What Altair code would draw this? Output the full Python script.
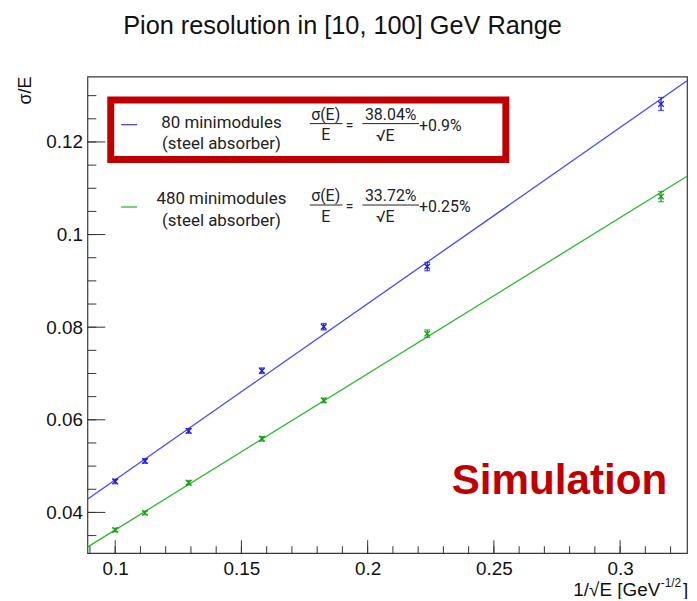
import altair as alt
import pandas as pd

# ---------------- data ----------------
x_vals = [0.1, 0.1118, 0.1291, 0.1581, 0.1826, 0.2236, 0.3162]
blue_y = [0.0467, 0.0511, 0.0576, 0.0706, 0.0801, 0.0931, 0.1282]
blue_err = [0.0005, 0.0005, 0.0005, 0.0006, 0.0007, 0.0009, 0.0014]
green_y = [0.0362, 0.0399, 0.0464, 0.0559, 0.0642, 0.0786, 0.1082]
green_err = [0.0004, 0.0004, 0.0005, 0.0005, 0.0005, 0.0008, 0.0011]
series = ["80 minimodules", "480 minimodules"]
fit_a = [0.3804, 0.3372]   # stochastic term from the legend
fit_b = [0.009, 0.0025]    # constant term from the legend

x_domain = [0.089, 0.3265]
y_domain = [0.0312, 0.1341]
x_major = [0.1, 0.15, 0.2, 0.25, 0.3]
x_ticks = [0.09, 0.10, 0.11, 0.12, 0.13, 0.14, 0.15, 0.16, 0.17, 0.18, 0.19, 0.20,
           0.21, 0.22, 0.23, 0.24, 0.25, 0.26, 0.27, 0.28, 0.29, 0.30, 0.31, 0.32]
y_major = [0.04, 0.06, 0.08, 0.1, 0.12]
y_ticks = [0.035, 0.04, 0.045, 0.05, 0.055, 0.06, 0.065, 0.07, 0.075, 0.08, 0.085,
           0.09, 0.095, 0.1, 0.105, 0.11, 0.115, 0.12, 0.125, 0.13]

W, H = 604, 480
LINE_COLORS = ["#4646ff", "#2cb82c"]
PT_COLORS = ["#1c1ce0", "#12a012"]
TICK_COLOR = "#333333"

# ---------------- tables ----------------
rows = []
for s, ys, es in [(series[0], blue_y, blue_err), (series[1], green_y, green_err)]:
    for xv, yv, ev in zip(x_vals, ys, es):
        rows.append({"series": s, "x": xv, "y": yv, "lo": yv - ev, "hi": yv + ev})
pts = pd.DataFrame(rows)
caps = pd.concat([
    pts.assign(yc=pts["lo"]),
    pts.assign(yc=pts["hi"]),
])

fit_rows = []
for s, a, b in zip(series, fit_a, fit_b):
    for xv in x_domain:
        fit_rows.append({"series": s, "x": xv, "y": a * xv + b})
fit = pd.DataFrame(fit_rows)

xs = alt.Scale(domain=x_domain, nice=False, zero=False)
ys_ = alt.Scale(domain=y_domain, nice=False, zero=False)
line_color = alt.Color("series:N", scale=alt.Scale(domain=series, range=LINE_COLORS), legend=None)
pt_color = alt.Color("series:N", scale=alt.Scale(domain=series, range=PT_COLORS), legend=None)

LABEL_FONT = "Liberation Sans"

# fit lines carry the label axes
lines = alt.Chart(fit).mark_line(strokeWidth=1.3, clip=True).encode(
    x=alt.X("x:Q", scale=xs, axis=alt.Axis(
        values=x_major, format="~g", ticks=False, tickSize=0, domain=False, grid=False,
        labelFont=LABEL_FONT, labelFontSize=19, labelColor="#111", labelPadding=6,
        title=None)),
    y=alt.Y("y:Q", scale=ys_, axis=alt.Axis(
        values=y_major, format="~g", ticks=False, tickSize=0, domain=False, grid=False,
        labelFont=LABEL_FONT, labelFontSize=19, labelColor="#111", labelPadding=5,
        title=None)),
    color=line_color,
    detail="series:N",
)

# inward ROOT-style ticks, drawn from the tick lists through the scales
xt_all = pd.DataFrame({"t": x_ticks})
xt_maj = pd.DataFrame({"t": x_major})
yt_all = pd.DataFrame({"t": y_ticks})
yt_maj = pd.DataFrame({"t": y_major})


def xtick(df, length):
    return alt.Chart(df).mark_rule(color=TICK_COLOR, strokeWidth=1).encode(
        x=alt.X("t:Q", scale=xs, axis=None),
        y=alt.value(H), y2=alt.value(H - length))


def ytick(df, length):
    return alt.Chart(df).mark_rule(color=TICK_COLOR, strokeWidth=1).encode(
        y=alt.Y("t:Q", scale=ys_, axis=None),
        x=alt.value(0), x2=alt.value(length))


ticks = [xtick(xt_all, 7), xtick(xt_maj, 13), ytick(yt_all, 9), ytick(yt_maj, 18)]

bars = alt.Chart(pts).mark_rule(strokeWidth=1.3).encode(
    x=alt.X("x:Q", scale=xs, axis=None),
    y=alt.Y("lo:Q", scale=ys_, axis=None),
    y2="hi:Q",
    color=pt_color,
)
capm = alt.Chart(caps).mark_point(shape="M-1,0L1,0", size=36, filled=False, strokeWidth=1.3).encode(
    x=alt.X("x:Q", scale=xs, axis=None),
    y=alt.Y("yc:Q", scale=ys_, axis=None),
    color=pt_color,
)
marks = alt.Chart(pts).mark_point(shape="M-1,-1L1,1M-1,1L1,-1", size=30, filled=False,
                                  strokeWidth=1.3, opacity=1).encode(
    x=alt.X("x:Q", scale=xs, axis=None),
    y=alt.Y("y:Q", scale=ys_, axis=None),
    color=pt_color,
)

dummy = pd.DataFrame({"d": [0]})


def txt(s, x, y, size=17, align="center", font="Roboto", color="#222", weight="normal",
        angle=0, baseline="middle"):
    return alt.Chart(dummy).mark_text(
        align=align, baseline=baseline, font=font, fontSize=size, color=color,
        fontWeight=weight, angle=angle).encode(
        text=alt.value(s), x=alt.value(x), y=alt.value(y))


def seg(x1, x2, y, color="#222", width=1.0):
    return alt.Chart(dummy).mark_rule(color=color, strokeWidth=width).encode(
        x=alt.value(x1), x2=alt.value(x2), y=alt.value(y))


box = alt.Chart(dummy).mark_rect(fillOpacity=0, stroke="#c00000", strokeWidth=7).encode(
    x=alt.value(23.5), x2=alt.value(421.5), y=alt.value(23.5), y2=alt.value(83.5))

legend_formulas = [("38.04%", "+0.9%"), ("33.72%", "+0.25%")]
ann = [box]
for i, (num, const) in enumerate(legend_formulas):
    dyt = 77 * i
    dyf = 82 * i
    ann += [
        seg(34, 50, 48.3 + 83 * i, LINE_COLORS[i], 1.3),
        txt(("80" if i == 0 else "480") + " minimodules", 135, 46.7 + dyt),
        txt("(steel absorber)", 135, 68.3 + dyt),
        txt("σ(E)", 240, 38.3 + dyf, size=16),
        seg(224, 257, 47.3 + dyf),
        txt("E", 240, 59 + dyf, size=16),
        txt("=", 264, 49.3 + dyf, size=14),
        txt(num, 305.5, 38.3 + dyf, size=16),
        seg(277, 334, 47.3 + dyf),
        txt("√E", 300, 59.5 + dyf, size=16),
        txt(const, 334, 49.3 + dyf, size=16, align="left"),
    ]

ann += [
    txt("Simulation", 475.5, 420, size=42.5, font="Liberation Sans", color="#c00000",
        weight="bold", baseline="alphabetic"),
    txt("Pion resolution in [10, 100] GeV Range", 257, -43, size=25.5, font=LABEL_FONT,
        color="#111", baseline="alphabetic"),
    txt("σ/E", -62, 0, size=18, font=LABEL_FONT, color="#111", angle=270, align="right"),
    txt("1/√E [GeV", 577, 523, size=19, font=LABEL_FONT, color="#111", align="right",
        baseline="alphabetic"),
    txt("-1/2", 577.5, 514, size=12, font=LABEL_FONT, color="#111", align="left",
        baseline="alphabetic"),
    txt("]", 600, 523, size=19, font=LABEL_FONT, color="#111", align="left",
        baseline="alphabetic"),
]

chart = alt.layer(lines, *ticks, bars, capm, marks, *ann).resolve_axis(
    x="independent", y="independent"
).resolve_scale(color="independent").properties(
    width=W, height=H,
    autosize=alt.AutoSizeParams(type="none"),
    padding={"left": 80, "top": 67, "right": 2, "bottom": 44},
    background="white",
).configure_view(stroke="#3a3a3a", strokeWidth=1.2)

chart.save("out.html", embed_options={"renderer": "svg", "actions": False})
